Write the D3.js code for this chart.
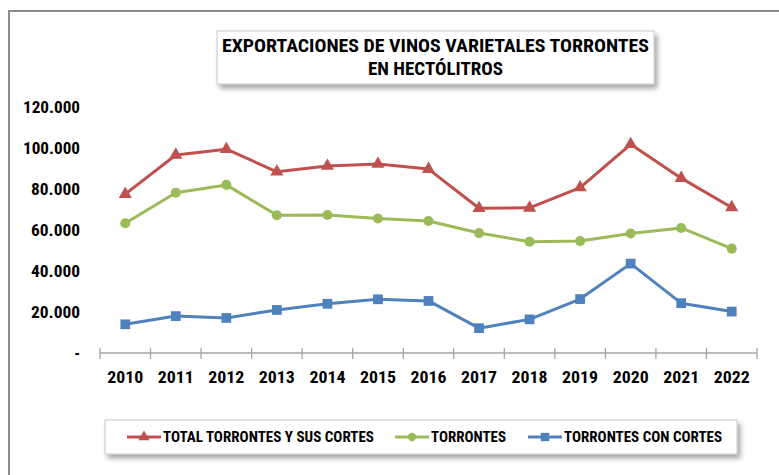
<!DOCTYPE html>
<html>
<head>
<meta charset="utf-8">
<script src="https://cdn.jsdelivr.net/npm/d3@7"></script>
<style>
  body { margin: 0; background: #fff; }
  svg text { font-family: "Liberation Sans Narrow", "Roboto Condensed", "Liberation Sans", sans-serif; font-weight: bold; fill: #000; }
</style>
</head>
<body>
<div id="chart"></div>
<script>
// data
var years = ["2010","2011","2012","2013","2014","2015","2016","2017","2018","2019","2020","2021","2022"];
var total = [77500, 96600, 99400, 88400, 91200, 92200, 89700, 70600, 70800, 80700, 101800, 85300, 71000];
var torrontes = [63300, 78200, 82000, 67200, 67300, 65600, 64400, 58500, 54300, 54600, 58300, 61000, 50900];
var conCortes = [14000, 18000, 17100, 21000, 24000, 26200, 25400, 12100, 16400, 26300, 43600, 24300, 20200];
var yTicks = [0, 20000, 40000, 60000, 80000, 100000, 120000];

var series = [
    {name: "TOTAL TORRONTES Y SUS CORTES", values: total, color: "#C0504D", marker: d3.symbolTriangle, len: 211},
    {name: "TORRONTES", values: torrontes, color: "#9BBB59", marker: d3.symbolCircle, len: 75},
    {name: "TORRONTES CON CORTES", values: conCortes, color: "#4F81BD", marker: d3.symbolSquare, len: 158}
];

var W = 779, H = 475;
var margin = {top: 107, right: 22, bottom: 122, left: 100},
    width = W - margin.left - margin.right,
    height = H - margin.top - margin.bottom;

var svg = d3.select("#chart")
    .append("svg")
    .attr("width", W)
    .attr("height", H);

var defs = svg.append("defs");
var f = defs.append("filter").attr("id", "shadow")
    .attr("x", "-10%").attr("y", "-20%").attr("width", "130%").attr("height", "160%");
f.append("feDropShadow").attr("dx", 3).attr("dy", 4).attr("stdDeviation", 2.5)
    .attr("flood-color", "#000").attr("flood-opacity", 0.35);

// outer chart border
svg.append("rect")
    .attr("x", 9).attr("y", 11)
    .attr("width", W + 20).attr("height", H + 20)
    .attr("fill", "none").attr("stroke", "#8c8c8c").attr("stroke-width", 2);

var g = svg.append("g")
    .attr("transform", "translate(" + margin.left + "," + margin.top + ")");

var x = d3.scaleBand().domain(years).range([0, width]);
var y = d3.scaleLinear().domain([0, 120000]).range([246, 0]);

// y labels (no axis line)
var fmt = function(d) {
    if (d === 0) return "-";
    return d3.format(",")(d).replace(/,/g, ".");
};
g.selectAll(".ylab")
    .data(yTicks)
    .enter().append("text")
    .attr("x", -20)
    .attr("y", function(d) { return y(d); })
    .attr("dy", "0.35em")
    .attr("text-anchor", "end")
    .style("font-size", "16px")
    .attr("textLength", function(d) { return d === 0 ? null : (d >= 100000 ? 57 : 49); })
    .attr("lengthAdjust", "spacingAndGlyphs")
    .text(fmt);

// x axis
var xAxis = g.append("g")
    .attr("transform", "translate(0," + y(0) + ")");
xAxis.append("line")
    .attr("x1", 0).attr("x2", width)
    .attr("stroke", "#a6a6a6").attr("stroke-width", 1.3);
var tickPos = years.map(function(d) { return x(d); }).concat([width]);
xAxis.selectAll(".tick")
    .data(tickPos)
    .enter().append("line")
    .attr("x1", function(d) { return d; }).attr("x2", function(d) { return d; })
    .attr("y1", -5).attr("y2", 6)
    .attr("stroke", "#a6a6a6").attr("stroke-width", 1.3);
xAxis.selectAll(".xlab")
    .data(years)
    .enter().append("text")
    .attr("x", function(d) { return x(d) + x.bandwidth() / 2; })
    .attr("y", 24)
    .attr("dy", "0.35em")
    .attr("text-anchor", "middle")
    .style("font-size", "16px")
    .attr("textLength", 36)
    .attr("lengthAdjust", "spacingAndGlyphs")
    .text(function(d) { return d; });

// lines + markers
var line = d3.line()
    .x(function(d, i) { return x(years[i]) + x.bandwidth() / 2; })
    .y(function(d) { return y(d); });

series.forEach(function(s) {
    g.append("path")
        .datum(s.values)
        .attr("fill", "none")
        .attr("stroke", s.color)
        .attr("stroke-width", 3)
        .attr("stroke-linejoin", "round")
        .attr("d", line);
    var size = s.marker === d3.symbolSquare ? 95 : (s.marker === d3.symbolTriangle ? 75 : 80);
    g.selectAll(null)
        .data(s.values)
        .enter().append("path")
        .attr("transform", function(d, i) {
            return "translate(" + (x(years[i]) + x.bandwidth() / 2) + "," + y(d) + ")";
        })
        .attr("d", d3.symbol().type(s.marker).size(size))
        .attr("fill", s.color);
});

// title box
svg.append("rect")
    .attr("x", 217).attr("y", 31).attr("width", 437).attr("height", 53)
    .attr("fill", "#fff").attr("stroke", "#c8c8c8").attr("stroke-width", 1)
    .attr("filter", "url(#shadow)");
svg.append("text")
    .attr("x", 435.5).attr("y", 52)
    .attr("text-anchor", "middle")
    .style("font-size", "18px")
    .attr("textLength", 427)
    .attr("lengthAdjust", "spacingAndGlyphs")
    .text("EXPORTACIONES DE VINOS VARIETALES TORRONTES");
svg.append("text")
    .attr("x", 435.5).attr("y", 75)
    .attr("text-anchor", "middle")
    .style("font-size", "18px")
    .attr("textLength", 135)
    .attr("lengthAdjust", "spacingAndGlyphs")
    .text("EN HECTÓLITROS");

// legend box
svg.append("rect")
    .attr("x", 105).attr("y", 420).attr("width", 632).attr("height", 34)
    .attr("fill", "#fff").attr("stroke", "#c8c8c8").attr("stroke-width", 1)
    .attr("filter", "url(#shadow)");
var legendX = [127, 395, 528];
series.forEach(function(s, i) {
    var lg = svg.append("g").attr("transform", "translate(" + legendX[i] + ",437)");
    lg.append("line").attr("x1", 0).attr("x2", 34)
        .attr("stroke", s.color).attr("stroke-width", 3);
    var size = s.marker === d3.symbolSquare ? 70 : 55;
    lg.append("path")
        .attr("transform", "translate(17,0)")
        .attr("d", d3.symbol().type(s.marker).size(size))
        .attr("fill", s.color);
    lg.append("text")
        .attr("x", 36).attr("y", 0).attr("dy", "0.35em")
        .style("font-size", "15px")
        .attr("textLength", s.len)
        .attr("lengthAdjust", "spacingAndGlyphs")
        .text(s.name);
});
</script>
</body>
</html>
